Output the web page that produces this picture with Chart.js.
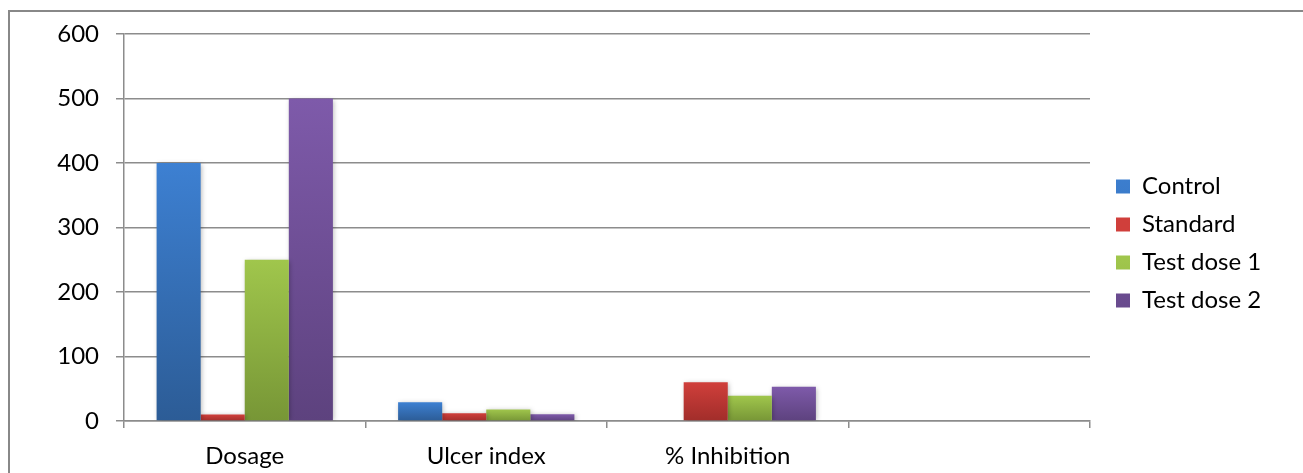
<!DOCTYPE html>
<html lang="en">
<head>
    <meta charset="UTF-8">
    <title>Ulcer chart</title>
    <script src="https://cdn.jsdelivr.net/npm/chart.js"></script>
    <style>
        body { margin: 0; background: #fff; }
        #wrap { width: 1303px; height: 473px; }
    </style>
</head>
<body>
    <div id="wrap"><canvas id="myChart" width="1303" height="473"></canvas></div>
    <script>
        // dados
        const categorias = ['Dosage', 'Ulcer index', '% Inhibition', ''];
        const control = [400, 29, 0, null];
        const standard = [10, 12, 60, null];
        const testDose1 = [250, 18, 39, null];
        const testDose2 = [500, 10.5, 53, null];
        const yTicks = [0, 100, 200, 300, 400, 500, 600];

        const fonte = 'Lato';
        const cinza = '#8c8c8c';

        // gradiente vertical por barra (estilo Excel 2007)
        function gradiente(topo, base, meio) {
            return function (context) {
                const chart = context.chart;
                if (!chart.chartArea || context.type !== 'data' || !chart.scales.y) return meio;
                const v = context.parsed ? context.parsed.y : NaN;
                if (!Number.isFinite(v)) return meio;
                const y0 = chart.scales.y.getPixelForValue(v);
                const y1 = chart.scales.y.getPixelForValue(0);
                if (!Number.isFinite(y0) || !Number.isFinite(y1)) return meio;
                if (y1 - y0 < 1) return topo;
                const g = chart.ctx.createLinearGradient(0, y0, 0, y1);
                g.addColorStop(0, topo);
                g.addColorStop(1, base);
                return g;
            };
        }

        const moldura = {
            id: 'moldura',
            beforeDraw(chart) {
                const ctx = chart.ctx;
                ctx.save();
                ctx.fillStyle = '#fff';
                ctx.fillRect(0, 0, chart.width, chart.height);
                ctx.strokeStyle = '#888';
                ctx.lineWidth = 2;
                ctx.strokeRect(9, 11, 1400, 600);
                ctx.restore();
            },
            afterInit(chart) {
                const leg = chart.legend;
                const fitOriginal = leg.fit;
                leg.fit = function () {
                    fitOriginal.call(this);
                    this.width = 1303 - 1090 - 2;
                };
            },
            afterLayout(chart) {
                // legenda um pouco mais afastada e mais alta, como no original
                chart.legend.left += 12;
                chart.legend.right += 12;
                chart.legend.top -= 10;
                chart.legend.bottom -= 10;
            },
            beforeDatasetsDraw(chart) {
                const ctx = chart.ctx;
                ctx.save();
                ctx.shadowColor = 'rgba(0,0,0,0.3)';
                ctx.shadowBlur = 5;
                ctx.shadowOffsetX = 1;
                ctx.shadowOffsetY = 1;
            },
            afterDatasetsDraw(chart) {
                chart.ctx.restore();
            }
        };

        const data = {
            labels: categorias,
            datasets: [
                { label: 'Control', data: control, backgroundColor: gradiente('#3d80d2', '#2c5c96', '#3470b8') },
                { label: 'Standard', data: standard, backgroundColor: gradiente('#d03f3b', '#a12d2a', '#bd3733') },
                { label: 'Test dose 1', data: testDose1, backgroundColor: gradiente('#a0c64c', '#779636', '#8fb241') },
                { label: 'Test dose 2', data: testDose2, backgroundColor: gradiente('#7e5aaa', '#5d427e', '#6f4f96') }
            ]
        };

        const config = {
            type: 'bar',
            data: data,
            plugins: [moldura],
            options: {
                responsive: false,
                animation: false,
                layout: { padding: { top: 34, left: 10, right: 2, bottom: 0 } },
                datasets: {
                    bar: { categoryPercentage: 0.73, barPercentage: 1, borderWidth: 0 }
                },
                scales: {
                    x: {
                        grid: { drawOnChartArea: false, drawTicks: true, tickLength: 7, color: cinza, lineWidth: 1.5, offset: true },
                        border: { color: cinza, width: 1.5 },
                        ticks: { color: '#000', padding: 14, maxRotation: 0, font: { family: fonte, size: 24 } },
                        afterFit(scale) { scale.height = 52; }
                    },
                    y: {
                        min: 0,
                        max: 600,
                        afterBuildTicks(scale) { scale.ticks = yTicks.map(v => ({ value: v })); },
                        grid: { color: cinza, lineWidth: 1.5, tickLength: 8 },
                        border: { color: cinza, width: 1.5 },
                        ticks: { color: '#000', padding: 17, font: { family: fonte, size: 24 } },
                        afterFit(scale) { scale.width = 114; }
                    }
                },
                plugins: {
                    legend: {
                        position: 'right',
                        align: 'center',
                        labels: {
                            color: '#000',
                            boxWidth: 14,
                            boxHeight: 14,
                            padding: 14,
                            font: { family: fonte, size: 24 }
                        }
                    },
                    tooltip: { enabled: false }
                }
            }
        };

        new Chart(document.getElementById('myChart'), config);
    </script>
</body>
</html>
